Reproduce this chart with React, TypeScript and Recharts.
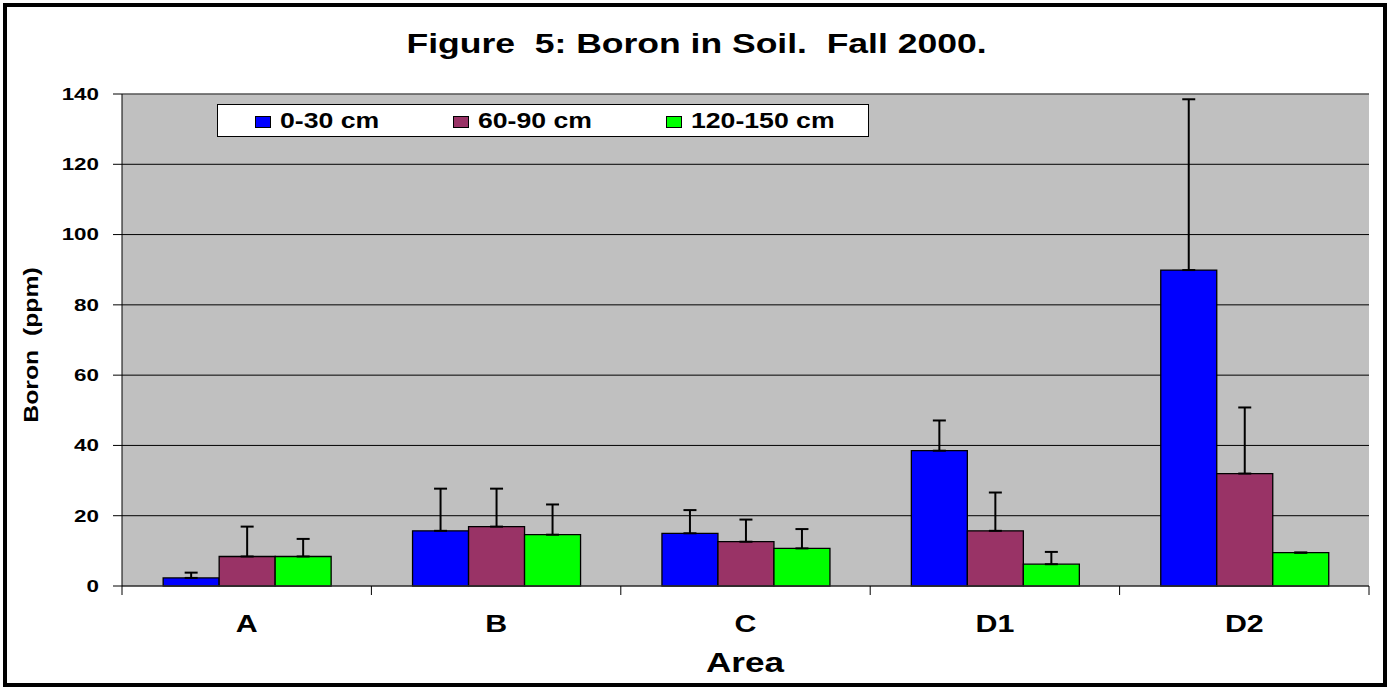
import { BarChart, Bar, ErrorBar, XAxis, YAxis, CartesianGrid, Legend, ReferenceLine } from "recharts";

const AREAS = ["A", "B", "C", "D1", "D2"];

// mean boron (ppm) per depth
const DEPTH_0_30 = [2.3, 15.7, 15.0, 38.5, 89.9];
const DEPTH_60_90 = [8.4, 16.9, 12.6, 15.7, 32.0];
const DEPTH_120_150 = [8.4, 14.6, 10.7, 6.2, 9.5];

// upper error (ppm)
const ERR_0_30 = [1.5, 12.0, 6.6, 8.6, 48.6];
const ERR_60_90 = [8.5, 10.8, 6.3, 10.9, 18.8];
const ERR_120_150 = [5.0, 8.6, 5.5, 3.5, 0];

const Y_TICKS = [0, 20, 40, 60, 80, 100, 120, 140];

const SERIES = [
  { key: "d0", err: "e0", name: "0-30 cm", color: "#0000ff" },
  { key: "d1", err: "e1", name: "60-90 cm", color: "#993366" },
  { key: "d2", err: "e2", name: "120-150 cm", color: "#00ff00" },
];

const data = AREAS.map((area, i) => ({
  area,
  d0: DEPTH_0_30[i],
  d1: DEPTH_60_90[i],
  d2: DEPTH_120_150[i],
  e0: [0, ERR_0_30[i]],
  e1: [0, ERR_60_90[i]],
  e2: [0, ERR_120_150[i]],
}));

const FONT = "'Liberation Sans', Arial, sans-serif";
const W = 1389;
const H = 688;
const MARGIN = { top: 94, right: 20, bottom: 42, left: 0 };
const Y_AXIS_W = 122;
const BAND = (W - MARGIN.right - Y_AXIS_W) / AREAS.length;

function XTick(props: any) {
  const { x, y, payload, index } = props;
  const axisY = y - 9;
  return (
    <g>
      <line x1={x - BAND / 2} x2={x - BAND / 2} y1={axisY} y2={y} stroke="#000" strokeWidth={1} />
      {index === AREAS.length - 1 && (
        <line x1={x + BAND / 2} x2={x + BAND / 2} y1={axisY} y2={y} stroke="#000" strokeWidth={1} />
      )}
      <text
        transform={`translate(${x},${y + 36.7}) scale(1.24,1)`}
        textAnchor="middle"
        fontFamily={FONT}
        fontWeight="bold"
        fontSize={24.5}
        fill="#000"
      >
        {payload.value}
      </text>
    </g>
  );
}

function YTick(props: any) {
  const { x, y, payload } = props;
  return (
    <text
      transform={`translate(${x},${y + 5.8}) scale(1.4,1)`}
      textAnchor="end"
      fontFamily={FONT}
      fontWeight="bold"
      fontSize={16}
      fill="#000"
    >
      {payload.value}
    </text>
  );
}

const ICON_LEFT = [38, 236, 449];

function LegendBox() {
  return (
    <div
      style={{
        position: "relative",
        width: "100%",
        height: "100%",
        boxSizing: "border-box",
        border: "1px solid #000",
        background: "#fff",
        fontFamily: FONT,
      }}
    >
      {SERIES.map((s, i) => (
        <div key={s.key}>
          <div
            style={{
              position: "absolute",
              left: ICON_LEFT[i] - 1,
              top: 10.7,
              width: 16,
              height: 12,
              boxSizing: "border-box",
              border: "1px solid #000",
              background: s.color,
            }}
          />
          <span
            style={{
              position: "absolute",
              left: ICON_LEFT[i] + 24,
              top: 4.7,
              fontSize: 22,
              lineHeight: "22px",
              fontWeight: "bold",
              whiteSpace: "pre",
              transform: "scaleX(1.21)",
              transformOrigin: "left center",
            }}
          >
            {s.name}
          </span>
        </div>
      ))}
    </div>
  );
}

export default function App() {
  return (
    <div
      style={{
        position: "absolute",
        left: 0,
        top: 0,
        width: W,
        height: H,
        background: "#fff",
        fontFamily: FONT,
        color: "#000",
        overflow: "hidden",
      }}
    >
      <BarChart
        width={W}
        height={H}
        data={data}
        margin={MARGIN}
        barCategoryGap="16.5%"
        barGap={0}
      >
        <CartesianGrid fill="#c0c0c0" stroke="#000" vertical={false} />
        <ReferenceLine y={140} stroke="#808080" />
        <XAxis
          dataKey="area"
          height={60}
          interval={0}
          tickSize={9}
          tickMargin={0}
          tickLine={false}
          axisLine={{ stroke: "#404040" }}
          tick={(p: any) => <XTick {...p} />}
        />
        <YAxis
          width={Y_AXIS_W}
          domain={[0, 140]}
          ticks={Y_TICKS}
          interval={0}
          tickSize={9}
          tickMargin={14}
          axisLine={{ stroke: "#000" }}
          tickLine={{ stroke: "#000" }}
          tick={(p: any) => <YTick {...p} />}
        />
        <Legend
          verticalAlign="middle"
          align="center"
          layout="horizontal"
          content={() => <LegendBox />}
          wrapperStyle={{ left: 217, top: 104, width: 652, height: 33 }}
        />
        {SERIES.map((s) => (
          <Bar
            key={s.key}
            dataKey={s.key}
            name={s.name}
            fill={s.color}
            stroke="#000"
            strokeWidth={1.3}
            isAnimationActive={false}
          >
            <ErrorBar dataKey={s.err} width={6.5} stroke="#000" strokeWidth={2} direction="y" />
          </Bar>
        ))}
      </BarChart>

      <div
        style={{
          position: "absolute",
          left: 2,
          top: 30.5,
          width: W,
          textAlign: "center",
          fontSize: 27,
          lineHeight: "27px",
          fontWeight: "bold",
          whiteSpace: "pre",
        }}
      >
        <span style={{ display: "inline-block", transform: "scaleX(1.315)" }}>
          {"Figure  5: Boron in Soil.  Fall 2000."}
        </span>
      </div>

      <div
        style={{
          position: "absolute",
          left: 30,
          top: 345,
          fontSize: 21,
          lineHeight: "21px",
          fontWeight: "bold",
          whiteSpace: "pre",
          transform: "translate(-50%, -50%) rotate(-90deg) scaleX(1.18)",
        }}
      >
        {"Boron  (ppm)"}
      </div>

      <div
        style={{
          position: "absolute",
          left: 745,
          top: 650,
          fontSize: 27,
          lineHeight: "27px",
          fontWeight: "bold",
          whiteSpace: "pre",
          transform: "translateX(-50%) scaleX(1.3)",
        }}
      >
        Area
      </div>

      <div
        style={{
          position: "absolute",
          left: 3,
          top: 3,
          width: 1384,
          height: 684,
          boxSizing: "border-box",
          border: "4px solid #000",
          pointerEvents: "none",
        }}
      />
    </div>
  );
}
